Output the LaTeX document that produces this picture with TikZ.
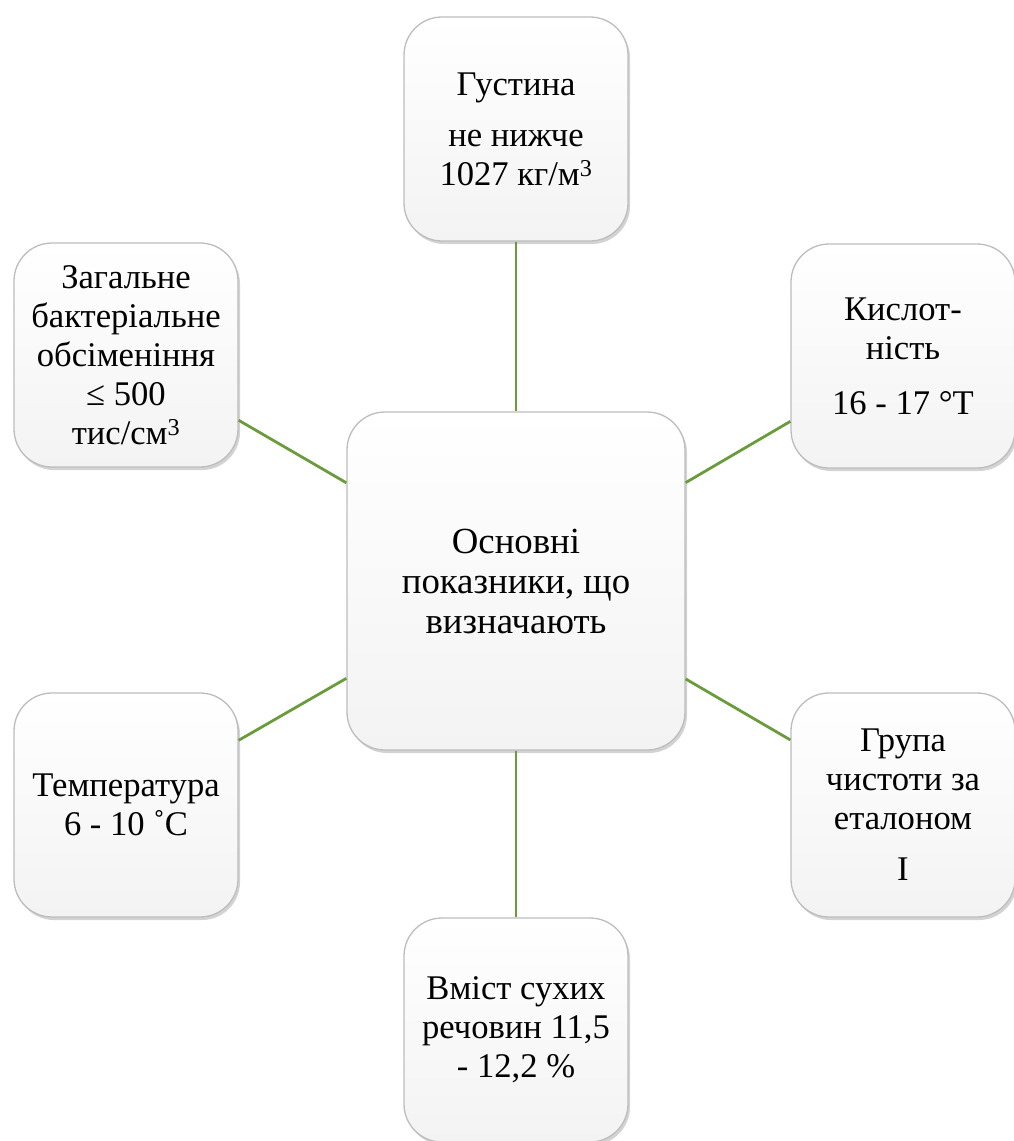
\documentclass[tikz,border=0pt]{standalone}
\usepackage{fontspec}
\setmainfont{Liberation Serif}
\usetikzlibrary{shadows}
\begin{document}
\begin{tikzpicture}[x=1pt, y=1pt,
  box/.style={rectangle, rounded corners=38pt, draw=greyEdge, line width=1.3pt,
    top color=white, middle color=white, bottom color=greyFill,
    drop shadow={shadow xshift=2pt, shadow yshift=-3pt, opacity=.35},
    minimum width=224pt, minimum height=224pt, align=center, inner sep=3pt,
    font=\fontsize{34.6}{39}\selectfont},
  link/.style={greenLink, line width=2.8pt}]

\definecolor{greenLink}{HTML}{6A9B3D}
\definecolor{greyEdge}{HTML}{BDBDBD}
\definecolor{greyFill}{HTML}{F3F3F3}

\useasboundingbox (0,0) rectangle (1013,-1141);

\node[box, minimum width=338pt, minimum height=338pt,
  font=\fontsize{36.8}{40}\selectfont] (main) at (516,-581)
  {Основні\\показники, що\\визначають};

\node[box] (density) at (516,-129)
  {Густина\\[12pt] не нижче\\1027 кг/м\textsuperscript{3}};
\node[box] (acidity) at (903,-356)
  {Кислот-\\ність\\[16pt]16 - 17 °Т};
\node[box] (purity) at (903,-805)
  {Група\\чистоти за\\еталоном\\[12pt]І};
\node[box] (solids) at (516,-1030)
  {Вміст сухих\\речовин 11,5\\- 12,2 \%};
\node[box] (temper) at (126,-805)
  {Температура\\6 - 10 ˚С};
\node[box] (bacteria) at (126,-355)
  {Загальне\\бактеріальне\\обсіменіння\\≤ 500\\тис/см\textsuperscript{3}};

\draw[link] (main) -- (density);
\draw[link] (main) -- (acidity);
\draw[link] (main) -- (purity);
\draw[link] (main) -- (solids);
\draw[link] (main) -- (temper);
\draw[link] (main) -- (bacteria);
\end{tikzpicture}
\end{document}
